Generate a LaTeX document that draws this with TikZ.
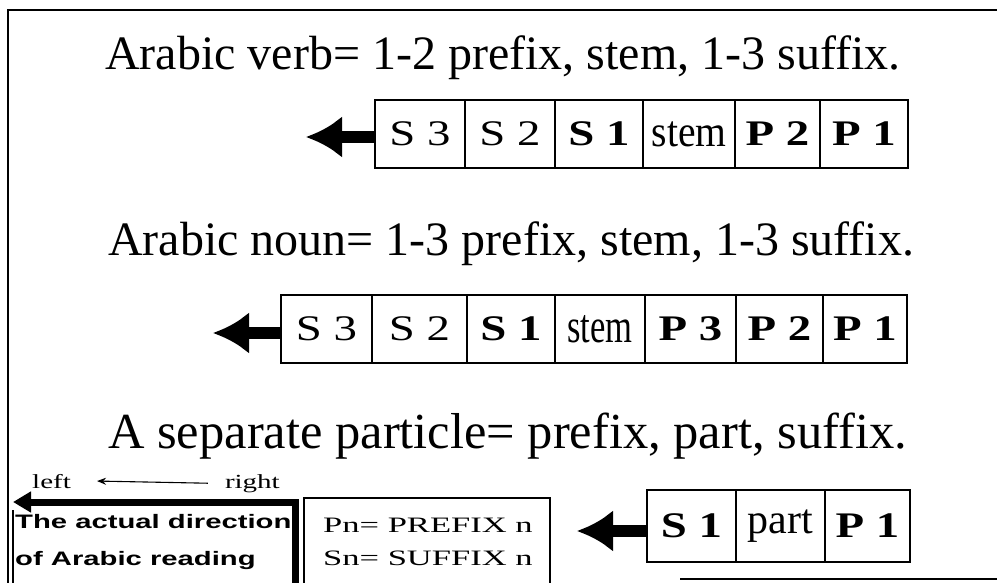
\documentclass[tikz,border=0pt]{standalone}
\usepackage{fontspec}
\usepackage{graphicx}
\setmainfont{Liberation Serif}
\newfontfamily\arialfont{Liberation Sans}
\usetikzlibrary{arrows.meta}

\newcommand{\stretchx}[2][1.3]{\scalebox{#1}[1]{#2}}

\tikzset{
  cell/.style={draw, line width=1.3pt, inner sep=0pt, minimum height=68pt},
  morph/.style={font=\fontsize{36}{40}\selectfont},
  title/.style={anchor=base west, inner sep=0pt, font=\fontsize{48}{56}\selectfont},
  flow/.style={-{Latex[length=36pt,width=42pt]}, line width=12pt},
  small/.style={anchor=base west, inner sep=0pt},
}

\begin{document}
\begin{tikzpicture}[x=1pt, y=-1pt]
  \useasboundingbox (0,0) rectangle (997,583);
  % frame (no right border)
  \draw[line width=1.5pt] (997,10) -- (8,10) -- (8,583);
  \draw[line width=1.5pt] (680,579) -- (997,579);

  % verb
  \node[title] (verbtitle) at (105,70) {Arabic verb= 1-2 prefix, stem, 1-3 suffix.};
  \foreach \nm/\l/\r/\txt in {
      vs3/375/465/{\stretchx{S 3}},
      vs2/465/555/{\stretchx{S 2}},
      vs1/555/643/{\stretchx{\bfseries S 1}},
      vstem/643/735/{\stretchx[0.9]{\fontsize{44}{48}\selectfont stem}},
      vp2/735/820/{\stretchx{\bfseries P 2}},
      vp1/820/908/{\stretchx{\bfseries P 1}}}
    \node[cell, morph, minimum width=\r-\l] (\nm) at ({(\l+\r)/2},134) {\txt};
  \coordinate (vtip) at (306,137);
  \draw[flow] (vs3.west |- vtip) -- (vtip);

  % noun
  \node[title] (nountitle) at (108,255) {Arabic noun= 1-3 prefix, stem, 1-3 suffix.};
  \foreach \nm/\l/\r/\txt in {
      ns3/281/372/{\stretchx{S 3}},
      ns2/372/467/{\stretchx{S 2}},
      ns1/467/555/{\stretchx{\bfseries S 1}},
      nstem/555/645/{\stretchx[0.72]{\fontsize{48}{52}\selectfont stem}},
      np3/645/736/{\stretchx{\bfseries P 3}},
      np2/736/823/{\stretchx{\bfseries P 2}},
      np1/823/907/{\stretchx{\bfseries P 1}}}
    \node[cell, morph, minimum width=\r-\l] (\nm) at ({(\l+\r)/2},329) {\txt};
  \coordinate (ntip) at (213,333);
  \draw[flow] (ns3.west |- ntip) -- (ntip);

  % particle
  \node[title, font=\fontsize{50.5}{58}\selectfont] (parttitle) at (108,448) {A separate particle= prefix, part, suffix.};
  \foreach \nm/\l/\r/\txt in {
      ps1/647/736/{\stretchx{\bfseries S 1}},
      ppart/736/825/{\fontsize{42}{46}\selectfont part},
      pp1/825/910/{\stretchx{\bfseries P 1}}}
    \node[cell, morph, minimum height=72pt, minimum width=\r-\l] (\nm) at ({(\l+\r)/2},526) {\txt};
  \coordinate (ptip) at (577,531);
  \draw[flow] (ps1.west |- ptip) -- (ptip);

  % reading direction
  \node[small, font=\fontsize{20}{24}\selectfont] (lft) at (32,488) {\stretchx[1.45]{left}};
  \node[small, anchor=base east, font=\fontsize{20}{24}\selectfont] (rgt) at (280,488) {\stretchx[1.45]{right}};
  \draw[-{Stealth[length=9pt,width=7pt]}, line width=1.1pt] ([xshift=-17pt]rgt.west) -- ([xshift=26pt]lft.east);
  \coordinate (dirfoot) at (295,583);
  \coordinate (dircorner) at (295,502);
  \coordinate (dirtip) at (13,502);
  \draw[line width=7pt, -{Triangle[length=18pt,width=20pt]}] (dirfoot) -- (dircorner) -- (dirtip);
  \draw[line width=1.3pt] (13,510) -- (13,583);
  \node[small, font=\arialfont\bfseries\fontsize{19.5}{23}\selectfont] (dir1) at (15,528) {\stretchx[1.5]{The actual direction}};
  \node[small, font=\arialfont\bfseries\fontsize{19.5}{23}\selectfont] (dir2) at (15,565) {\stretchx[1.5]{of Arabic reading}};

  % key
  \draw[line width=1.3pt] (304,583) -- (304,498) -- (550,498) -- (550,583);
  \node[small, font=\fontsize{22}{26}\selectfont] (key1) at (323,532) {\stretchx[1.57]{Pn= PREFIX n}};
  \node[small, font=\fontsize{22}{26}\selectfont] (key2) at (323,565) {\stretchx[1.57]{Sn= SUFFIX n}};
\end{tikzpicture}
\end{document}
